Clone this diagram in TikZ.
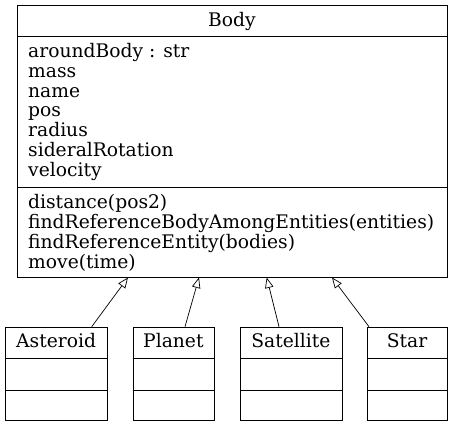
\documentclass[tikz,border=0pt]{standalone}
\usepackage{fontspec}
\setmainfont{DejaVu Serif}
\usetikzlibrary{arrows.meta}
\begin{document}
\begin{tikzpicture}[x=1pt,y=-1pt,
  box/.style={draw, line width=0.9pt, rectangle, inner sep=0pt, anchor=north west},
  txt/.style={inner sep=0pt, anchor=base west, font=\fontsize{18.7}{20}\selectfont},
  ttl/.style={inner sep=0pt, anchor=base, font=\fontsize{18.7}{20}\selectfont},
  inh/.style={line width=0.7pt, -{Triangle[open,length=10.5pt,width=8.5pt]}}]
\useasboundingbox (0,0) rectangle (453,427);
% Body
\node[box, minimum width=429.4pt, minimum height=272pt] (body) at (17.3,5.5) {};
\draw[line width=0.9pt] (17.3,36) -- (446.7,36);
\draw[line width=0.9pt] (17.3,187.3) -- (446.7,187.3);
\node[ttl] (bodyt) at (232,27) {Body};
\foreach \s [count=\i from 0] in {aroundBody : str,mass,name,pos,radius,sideralRotation,velocity}{
  \node[txt] (attr\i) at (28,57.3+19.9*\i) {\s};
}
\foreach \s [count=\i from 0] in {distance(pos2),findReferenceBodyAmongEntities(entities),findReferenceEntity(bodies),move(time)}{
  \node[txt] (meth\i) at (28,209+19.7*\i) {\s};
}
% subclasses
\foreach \n/\l/\r/\t in {ast/5/107.3/Asteroid, pla/132.7/214/Planet, sat/240/341.7/Satellite, sta/367.3/446.7/Star}{
  \node[box, minimum width=\r pt-\l pt, minimum height=93.5pt] (\n) at (\l,326.7) {};
  \draw[line width=0.9pt] (\l,358.3) -- (\r,358.3);
  \draw[line width=0.9pt] (\l,390) -- (\r,390);
  \node[ttl] (\n t) at ({(\l+\r)/2},348) {\t};
}
% connectors
\coordinate (a1) at (91.7,326.7); \coordinate (a2) at (128,277.5);
\coordinate (p1) at (185,326.7); \coordinate (p2) at (199,277.5);
\coordinate (s1) at (279,326.7); \coordinate (s2) at (266.7,277.5);
\coordinate (t1) at (369,326.7); \coordinate (t2) at (332,277.5);
\draw[inh] (a1) -- (a2);
\draw[inh] (p1) -- (p2);
\draw[inh] (s1) -- (s2);
\draw[inh] (t1) -- (t2);
\end{tikzpicture}
\end{document}
